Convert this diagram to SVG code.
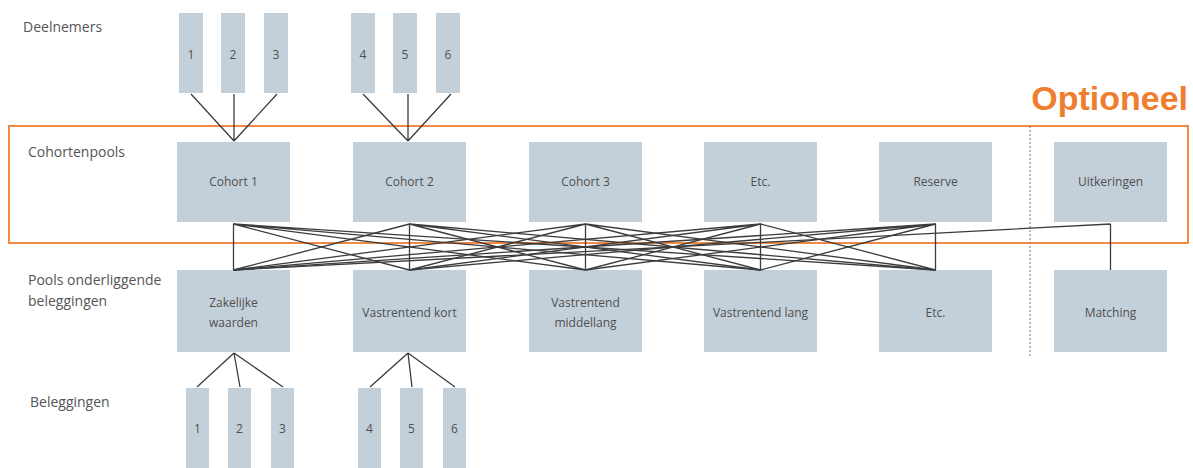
<svg xmlns="http://www.w3.org/2000/svg" width="1193" height="468" viewBox="0 0 1193 468">
<style>
.bg{fill:#ffffff}
.box{fill:#c4d0d9}
.lbl{font-family:"Open Sans","Liberation Sans",sans-serif;font-size:14px;fill:#555}
.bt{font-family:"Open Sans","Liberation Sans",sans-serif;font-size:12px;fill:#4f4f4f;text-anchor:middle}
.opt{font-family:"Liberation Sans",Arial,sans-serif;font-size:34px;font-weight:bold;fill:#f07d2e;text-anchor:end}
.frame{fill:none;stroke:#f08a45;stroke-width:2}
.sep{stroke:#777;stroke-width:1;stroke-dasharray:2 2}
.c{stroke:#3c3c3c;stroke-width:1.3;fill:none}
</style>
<rect class="bg" x="0" y="0" width="1193" height="468"/>

<g id="labels">
<text class="lbl" x="23" y="32">Deelnemers</text>
<text class="lbl" x="28" y="157">Cohortenpools</text>
<text class="lbl" x="28" y="285">Pools onderliggende</text>
<text class="lbl" x="28" y="306">beleggingen</text>
<text class="lbl" x="30" y="407">Beleggingen</text>
<text class="opt" x="1188" y="110">Optioneel</text>
</g>

<g id="optional-frame">
<rect class="frame" x="9" y="126" width="1179" height="117"/>
<line class="sep" x1="1030" y1="126" x2="1030" y2="356"/>
</g>

<g id="deelnemers">
<g id="d1"><rect class="box" x="179" y="13" width="24" height="80"/><text class="bt" x="191" y="59">1</text></g>
<g id="d2"><rect class="box" x="221" y="13" width="24" height="80"/><text class="bt" x="233" y="59">2</text></g>
<g id="d3"><rect class="box" x="264" y="13" width="24" height="80"/><text class="bt" x="276" y="59">3</text></g>
<g id="d4"><rect class="box" x="351" y="13" width="24" height="80"/><text class="bt" x="363" y="59">4</text></g>
<g id="d5"><rect class="box" x="393" y="13" width="24" height="80"/><text class="bt" x="405" y="59">5</text></g>
<g id="d6"><rect class="box" x="436" y="13" width="24" height="80"/><text class="bt" x="448" y="59">6</text></g>
</g>

<g id="cohorten">
<g id="cohort1"><rect class="box" x="177" y="142" width="113" height="80"/><text class="bt" x="233.5" y="186">Cohort 1</text></g>
<g id="cohort2"><rect class="box" x="353" y="142" width="113" height="80"/><text class="bt" x="409.5" y="186">Cohort 2</text></g>
<g id="cohort3"><rect class="box" x="529" y="142" width="113" height="80"/><text class="bt" x="585.5" y="186">Cohort 3</text></g>
<g id="etc1"><rect class="box" x="704" y="142" width="113" height="80"/><text class="bt" x="760.5" y="186">Etc.</text></g>
<g id="reserve"><rect class="box" x="879" y="142" width="113" height="80"/><text class="bt" x="935.5" y="186">Reserve</text></g>
<g id="uitkeringen"><rect class="box" x="1054" y="142" width="113" height="80"/><text class="bt" x="1110.5" y="186">Uitkeringen</text></g>
</g>

<g id="pools">
<g id="zakelijk"><rect class="box" x="177" y="270" width="113" height="82"/><text class="bt" x="233.5" y="307">Zakelijke</text><text class="bt" x="233.5" y="327">waarden</text></g>
<g id="vkort"><rect class="box" x="353" y="270" width="113" height="82"/><text class="bt" x="409.5" y="317">Vastrentend kort</text></g>
<g id="vmidden"><rect class="box" x="529" y="270" width="113" height="82"/><text class="bt" x="585.5" y="307">Vastrentend</text><text class="bt" x="585.5" y="327">middellang</text></g>
<g id="vlang"><rect class="box" x="704" y="270" width="113" height="82"/><text class="bt" x="760.5" y="317">Vastrentend lang</text></g>
<g id="etc2"><rect class="box" x="879" y="270" width="113" height="82"/><text class="bt" x="935.5" y="317">Etc.</text></g>
<g id="matching"><rect class="box" x="1054" y="270" width="113" height="82"/><text class="bt" x="1110.5" y="317">Matching</text></g>
</g>

<g id="beleggingen">
<g id="b1"><rect class="box" x="186" y="388" width="23" height="82"/><text class="bt" x="197.5" y="433">1</text></g>
<g id="b2"><rect class="box" x="228" y="388" width="23" height="82"/><text class="bt" x="239.5" y="433">2</text></g>
<g id="b3"><rect class="box" x="271" y="388" width="23" height="82"/><text class="bt" x="282.5" y="433">3</text></g>
<g id="b4"><rect class="box" x="358" y="388" width="23" height="82"/><text class="bt" x="369.5" y="433">4</text></g>
<g id="b5"><rect class="box" x="400" y="388" width="23" height="82"/><text class="bt" x="411.5" y="433">5</text></g>
<g id="b6"><rect class="box" x="443" y="388" width="23" height="82"/><text class="bt" x="454.5" y="433">6</text></g>
</g>

<g id="connectors">
<!-- deelnemers to cohorts -->
<path class="c" d="M191 94 L234 141 M234 94 L234 141 M277 94 L234 141"/>
<path class="c" d="M363 94 L408 141 M408 94 L408 141 M451 94 L408 141"/>
<!-- cohorts to pools (every cohort to every pool) -->
<path class="c" d="M233.5 224 L233.5 270 M233.5 224 L409.5 270 M233.5 224 L585.5 270 M233.5 224 L760.5 270 M233.5 224 L935.5 270"/>
<path class="c" d="M409.5 224 L233.5 270 M409.5 224 L409.5 270 M409.5 224 L585.5 270 M409.5 224 L760.5 270 M409.5 224 L935.5 270"/>
<path class="c" d="M585.5 224 L233.5 270 M585.5 224 L409.5 270 M585.5 224 L585.5 270 M585.5 224 L760.5 270 M585.5 224 L935.5 270"/>
<path class="c" d="M760.5 224 L233.5 270 M760.5 224 L409.5 270 M760.5 224 L585.5 270 M760.5 224 L760.5 270 M760.5 224 L935.5 270"/>
<path class="c" d="M935.5 224 L233.5 270 M935.5 224 L409.5 270 M935.5 224 L585.5 270 M935.5 224 L760.5 270 M935.5 224 L935.5 270"/>
<!-- uitkeringen -->
<path class="c" d="M1110.5 224 L1110.5 270 M1110.5 224 L233.5 270"/>
<!-- pools to beleggingen -->
<path class="c" d="M234 353 L197 387 M234 353 L240 387 M234 353 L283 387"/>
<path class="c" d="M408 353 L370 387 M408 353 L412 387 M408 353 L455 387"/>
</g>
</svg>
